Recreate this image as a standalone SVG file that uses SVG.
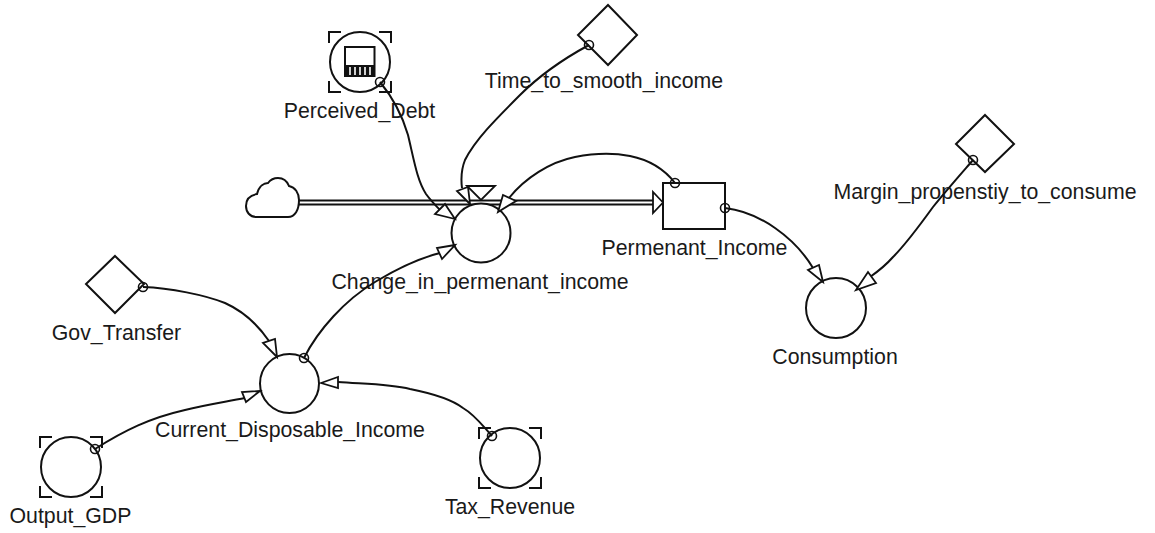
<svg xmlns="http://www.w3.org/2000/svg" width="1155" height="533" viewBox="0 0 1155 533">
<style>
.s{fill:#fff;stroke:#111;stroke-width:2}
.n{fill:none;stroke:#111;stroke-width:2}
.c{fill:none;stroke:#111;stroke-width:2}
.d{fill:none;stroke:#111;stroke-width:1.600}
.a{fill:#fff;stroke:#111;stroke-width:1.800;stroke-linejoin:miter}
text{font-family:"Liberation Sans",Arial,sans-serif;font-size:21.300px;fill:#1a1a1a;text-anchor:middle}
</style>
<defs>
<path id="br" class="n" d="M-31-19V-30H-19M19-30H31V-19M31 19V30H19M-19 30H-31V19"/>
</defs>
<rect width="1155" height="533" fill="#fff"/>
<g id="flow">
<path class="n" d="M299 200.500H654M299 204.500H654"/>
<path class="s" d="M246 206C246 198 251 195 257 194C259 186 264 183 268 183C271 179 275 178 278 178C283 178 287 181 289 186C295 187 299 193 299 200C299 210 295 217 288 217H256C250 217 246 212 246 206Z"/>
<path id="valve" class="a" d="M467 186H495L481 200Z"/>
<path class="a" d="M663 202.500L653 192V213Z"/>
</g>
<g id="Perceived_Debt">
<use href="#br" x="360" y="62"/>
<circle class="s" cx="360" cy="62" r="30"/>
<rect class="n" x="345" y="47" width="29.500" height="29"/>
<path fill="#111" d="M345 65h30v11h-30z"/>
<path stroke="#fff" stroke-width="1.600" d="M350 67v8M355 67v8M360 67v8M365 67v8M370 67v8"/>
<text x="359.500" y="118">Perceived_Debt</text>
</g>
<g id="Time_to_smooth_income">
<path class="s" d="M608 5L637 35L608 65L578 35Z"/>
<text x="604" y="88">Time_to_smooth_income</text>
</g>
<g id="Margin_propenstiy_to_consume">
<path class="s" d="M985 115L1014 144L985 172L956 144Z"/>
<text x="985" y="199">Margin_propenstiy_to_consume</text>
</g>
<g id="Permenant_Income">
<rect class="s" x="663" y="183" width="62" height="46"/>
<text x="694.500" y="255">Permenant_Income</text>
</g>
<g id="Change_in_permenant_income">
<circle class="s" cx="481" cy="233" r="29.500"/>
<text x="480" y="289">Change_in_permenant_income</text>
</g>
<g id="Consumption">
<circle class="s" cx="836" cy="308" r="30"/>
<text x="835" y="364">Consumption</text>
</g>
<g id="Gov_Transfer">
<path class="s" d="M115 256L144 284L115 313L86 284Z"/>
<text x="116.500" y="340">Gov_Transfer</text>
</g>
<g id="Current_Disposable_Income">
<circle class="s" cx="289.500" cy="383.500" r="29.500"/>
<text x="290" y="437">Current_Disposable_Income</text>
</g>
<g id="Output_GDP">
<use href="#br" x="71" y="467"/>
<circle class="s" cx="71" cy="467" r="30"/>
<text x="70.500" y="523">Output_GDP</text>
</g>
<g id="Tax_Revenue">
<use href="#br" x="510" y="458"/>
<circle class="s" cx="510" cy="458" r="30"/>
<text x="510" y="514">Tax_Revenue</text>
</g>
<g id="connectors">
<path class="c" d="M380 82C395 100 403 118 408 135C414 160 417 180 426 194C431 201 437 207 442 212"/>
<path class="a" d="M455 219L435 214L445 204Z"/>
<path class="c" d="M589 45C565 58 540 75 520 95C495 120 475 140 465 160C461 170 461 180 462 188"/>
<path class="a" d="M470 204L457 191L468 187Z"/>
<path class="c" d="M675 183C665 170 650 160 630 156C615 153 595 153 575 157C550 162 525 178 509 198"/>
<path class="a" d="M498 212L503 195L516 201Z"/>
<path class="c" d="M304 358C318 330 345 300 375 282C395 270 420 258 440 253"/>
<path class="a" d="M455 245L437 248L442 259Z"/>
<path class="c" d="M143 287C170 288 205 295 225 303C245 312 258 325 269 341"/>
<path class="a" d="M277 357L263 343L275 339Z"/>
<path class="c" d="M95 449C125 430 150 418 185 410C205 405 225 402 245 398"/>
<path class="a" d="M260 391L242 392L246 402Z"/>
<path class="c" d="M492 436C482 425 475 415 463 408C450 398 430 393 410 389C390 384 365 384 338 382"/>
<path class="a" d="M321 383L338 377V388Z"/>
<path class="c" d="M725 208C760 212 795 238 813 268"/>
<path class="a" d="M823 282L808 270L819 265Z"/>
<path class="c" d="M973 160C960 175 945 192 933 207C920 225 905 245 893 257C886 265 880 270 870 277"/>
<path class="a" d="M856 290L868 272L876 283Z"/>
<g class="d">
<circle cx="380" cy="82" r="4.500"/>
<circle cx="589" cy="45" r="4.500"/>
<circle cx="675" cy="183" r="4.500"/>
<circle cx="725" cy="208" r="4.500"/>
<circle cx="973" cy="160" r="4.500"/>
<circle cx="143" cy="287" r="4.500"/>
<circle cx="304" cy="358" r="4.500"/>
<circle cx="95" cy="449" r="4.500"/>
<circle cx="492" cy="436" r="4.500"/>
</g>
</g>
</svg>
